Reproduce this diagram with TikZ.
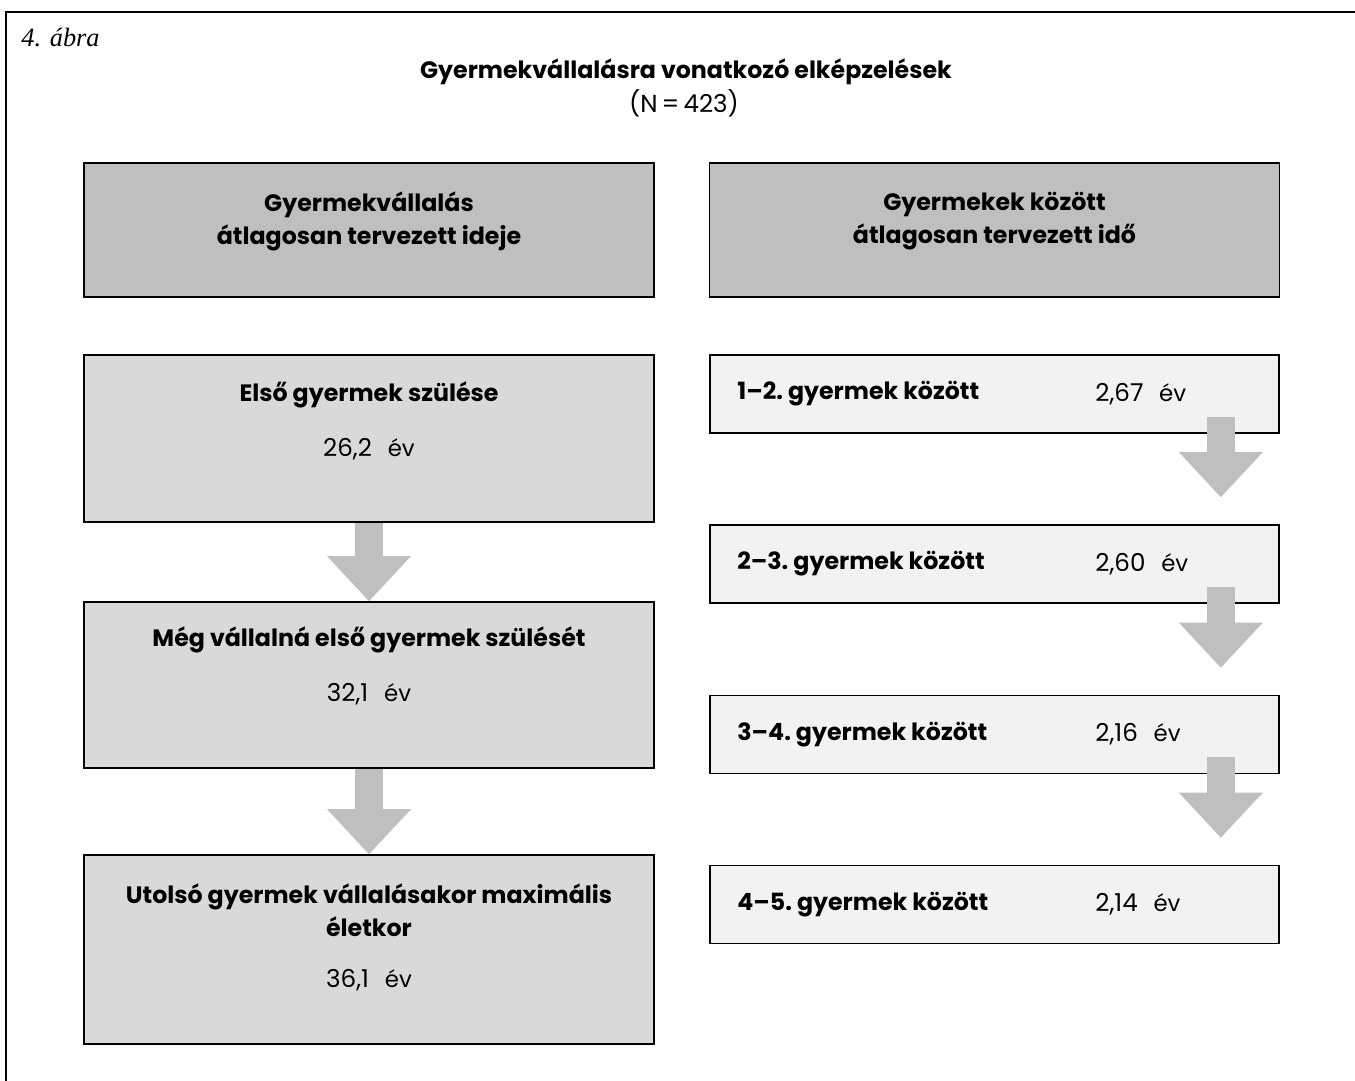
\documentclass[tikz,border=0pt]{standalone}
\usepackage{fontspec}
\setmainfont{Poppins}
\newfontfamily\figfont{Liberation Serif}
\usetikzlibrary{arrows.meta}
\definecolor{headgray}{HTML}{BFBFBF}
\definecolor{boxgray}{HTML}{D9D9D9}
\definecolor{palegray}{HTML}{F2F2F2}
\definecolor{arrowgray}{HTML}{BFBFBF}
\newcommand\ev{\hspace{9pt}{\fontsize{13}{15}\selectfont év}}

\begin{document}
\begin{tikzpicture}
	[x=0.02cm,y=-0.02cm,
	every node/.style={font=\fontsize{14}{18.8}\selectfont,align=center,inner sep=0pt},
	headbox/.style={draw,line width=1pt,fill=headgray,minimum width=11.4cm,minimum height=2.68cm},
	agebox/.style={draw,line width=1pt,fill=boxgray,minimum width=11.4cm},
	gapbox/.style={draw,line width=1pt,fill=palegray,minimum width=11.38cm,minimum height=1.56cm},
	bold/.style={font=\fontsize{13.5}{18.8}\selectfont\bfseries},
	blockarrow/.style={draw=arrowgray,line width=0.56cm,
		-{Triangle[width=1.68cm,length=0.9cm,line width=0pt]}}]
	\clip (0,0) rectangle (1355,1080);
	\draw[line width=1.2pt] (6,1100) -- (6,12) -- (1375,12);
	\node[anchor=west,font=\fontsize{15}{18}\selectfont\figfont\itshape] (fig) at (21,38) {4. ábra};
	\node[bold] (title) at (686,72) {Gyermekvállalásra vonatkozó elképzelések};
	\node (count) at (684,103) {(N\,=\,423)};

	\node[headbox] (hdleft) at (369,230) {};
	\node[headbox] (hdright) at (994.5,230) {};
	\node[bold] at (369,221) {Gyermekvállalás\\átlagosan tervezett ideje};
	\node[bold] at (994.5,221) {Gyermekek között\\átlagosan tervezett idő};

	\node[agebox,minimum height=3.34cm] (first) at (369,438.5) {};
	\node[agebox,minimum height=3.32cm] (still) at (369,685) {};
	\node[agebox,minimum height=3.78cm] (last) at (369,949.5) {};
	\node[bold] at (369,395) {Első gyermek szülése};
	\node at (369,449) {26,2\ev};
	\node[bold] at (369,640) {Még vállalná első gyermek szülését};
	\node at (369,694) {32,1\ev};
	\node[bold] at (369,910) {Utolsó gyermek vállalásakor maximális\\életkor};
	\node at (369,980) {36,1\ev};

	\foreach \name/\y/\lbl/\val in {gap12/394/1–2./{2,67}, gap23/564/2–3./{2,60},
		gap34/734.5/3–4./{2,16}, gap45/904.5/4–5./{2,14}}{
		\node[gapbox] (\name) at (994.5,\y) {};
		\node[bold,anchor=west] at (737,\y) {\lbl\ gyermek között};
		\node[anchor=west] at (1095,\y) {\val\ev};
	}

	\draw[blockarrow] (first.south) -- (still.north);
	\draw[blockarrow] (still.south) -- (last.north);
	\draw[blockarrow] ([shift={(-59,-17)}]gap12.south east) -- ([shift={(-59,-27)}]gap23.north east);
	\draw[blockarrow] ([shift={(-59,-17)}]gap23.south east) -- ([shift={(-59,-27)}]gap34.north east);
	\draw[blockarrow] ([shift={(-59,-17)}]gap34.south east) -- ([shift={(-59,-27)}]gap45.north east);
\end{tikzpicture}
\end{document}
